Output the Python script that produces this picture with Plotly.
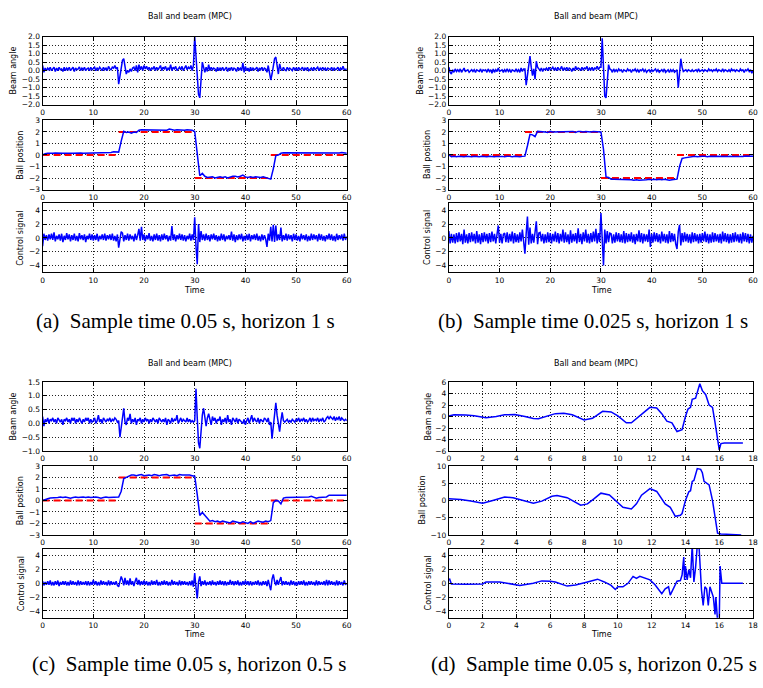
import plotly.graph_objects as go

W, H = 763, 688

# ---------------- (a) sample time 0.05 s, horizon 1 s ----------------
a_step = 0.25
a_angle = [
 .3,-.1,.15,0, .15,.05,.2,0,
 .1,.2,-.05,.15, 0,.2,.05,.1,
 -.05,.2,0,.15, .05,.2,0,.12,
 .2,-.05,.15,.05, .1,.22,0,.15,
 .05,.2,0,.1, .15,0,.2,.05,
 .1,.2,0,.15, .05,.2,.1,0,
 .2,.05,.15,0, .25,.1,.05,.2,
 .15,.3,.1,.2, -.8,-.3,.3,.6,
 .7,.2,-.2,0, -.1,.1,-.05,.15,
 .2,0,.3,-.1, .35,.05,.25,0,
 .3,.1,.25,.05, .2,0,.15,.1,
 .25,0,.2,.05, .15,.3,0,.2,
 .1,.25,0,.15, .05,.35,0,.2,
 .1,.25,0,.15, .2,.05,.25,0,
 .15,.3,.05,.2, .1,.3,0,.3,
 2.0,1.0,-.5,-1.4, -1.6,-.3,.5,.2,
 -.1,.2,-.05,.35, 0,.2,.05,.15,
 .1,-.05,.2,0, .15,.05,.2,0,
 .1,.2,-.05,.15, .05,.2,0,.15,
 .1,-.05,.2,.05, .15,0,.45,-.1,
 .25,0,.15,-.05, .2,0,.15,.05,
 .1,.2,-.05,.15, .05,.2,0,.15,
 .1,-.1,.3,-.2, -.55,-.2,.3,.7,
 .8,.1,-.2,.4, .1,0,.2,.05,
 0,.2,.05,.15, .1,0,.2,.05,
 .15,0,.2,.05, .1,.2,0,.15,
 .05,.2,0,.1, .15,0,.2,.05,
 .1,.2,0,.15, .05,.2,.05,.15,
 0,.15,.1,.05, .2,0,.15,.05,
 .1,.2,0,.15, .05,.25,.05,.1,
 .1]
a_pos_step = 0.5
a_pos = [
 0,.12,.15,.12, .15,.18,.15,.13,
 .15,.15,.18,.15, .15,.17,.15,.18,
 .15,.16,.17,.18, .15,.2,.18,.16,
 .2,.22,.25,.22, .28,.25,.25,1.2,
 2.05,1.95,2.0,1.9, 2.0,1.95,2.15,2.2,
 2.2,2.15,2.2,2.18, 2.15,2.2,2.18,2.2,
 2.2,2.15,2.25,2.2, 2.15,2.2,2.18,2.2,
 2.15,2.2,2.2,2.15, 2.05,.1,-1.8,-1.6,
 -1.85,-1.95,-1.95,-1.9, -2.0,-1.95,-1.9,-1.95,
 -1.9,-2.0,-1.9,-1.85, -1.85,-1.9,-1.85,-1.75,
 -1.9,-1.95,-1.9,-1.95, -1.9,-1.95,-1.95,-1.9,
 -1.95,-2.0,-2.1,-1.2, -.05,0,.15,.2,
 .2,.18,.2,.15, .18,.2,.2,.15,
 .18,.2,.15,.2, .2,.18,.2,.15,
 .18,.2,.15,.2, .2,.18,.22,.2,
 .15]
a_u = [
 -1.2,.6,-.3,.4, -.4,.5,-.2,.6,
 -.3,.8,-.5,.3, -.2,.5,-.4,.6,
 -.6,.3,-.3,.7, -.2,.5,-.5,.4,
 -.3,.6,-.4,.3, -.5,.7,-.2,.4,
 -.3,.5,-.6,.3, -.2,.6,-.3,.5,
 -.4,.4,-.3,.6, -.5,.3,-.2,.5,
 -.3,.6,-.4,.4, -.2,.5,-.3,.6,
 -.4,.3,-.5,.5, -1.4,.2,.9,.7,
 -.5,.4,-.3,.6, -.4,.5,-.2,.3,
 -.5,.6,-.3,.4, 1.3,-.4,1.6,-.3,
 .5,-.5,.4,-.2, .7,-.4,.3,-.5,
 .5,-.3,.6,-.4, .4,-.5,.5,-.3,
 .6,-.2,.4,-.5, .3,-.4,1.7,-.3,
 .5,-.5,.4,-.2, .6,-.3,.5,-.4,
 .4,-.5,.3,-.2, .6,-.4,.5,-.3,
 3.0,-1.2,-3.8,2.0, -.6,1.0,-.3,.5,
 -.4,.6,-.3,.4, -.5,.5,-.2,.6,
 -.3,.4,-.5,.3, -.4,.6,-.3,.5,
 -.5,.3,-.2,.4, -.3,.9,-.4,.5,
 -.6,.4,-.3,.5, -.2,.6,-.5,.3,
 -.4,.5,-.3,.6, -.5,.4,-.2,.5,
 -.3,.6,-.4,.3, -.5,.5,-.3,.4,
 -.2,-1.3,.6,-.4, 1.6,-.5,1.9,-.6,
 1.8,-.4,.5,-.3, 1.5,-.5,.4,-.3,
 .6,-.4,.5,-.2, .4,-.5,.6,-.3,
 .5,-.4,.3,-.5, .6,-.2,.4,-.3,
 .5,-.5,.3,-.4, .6,-.3,.5,-.2,
 .4,-.5,.6,-.3, .5,-.4,.3,-.5,
 .4,-.2,.6,-.3, .5,-.4,.3,-.5,
 .6,-.3,.4,-.2, .5,-.4,.6,-.3,
 .2]

# ---------------- (b) sample time 0.025 s, horizon 1 s ----------------
b_step = 0.25
b_angle = [
 .2,-.1,-.2,.05, -.1,.1,-.05,.05,
 -.05,.1,-.1,.05, .15,-.05,0,.05,
 -.1,0,.05,-.05, .05,-.1,.05,0,
 -.05,.1,-.1,.05, 0,.05,-.1,.1,
 -.05,.05,-.15,.1, -.1,.05,-.05,.15,
 -.05,0,.05,-.1, .05,-.05,.1,-.05,
 .05,-.1,.05,0, -.05,.1,-.05,.05,
 -.1,.15,-.05,.1, .1,-.85,-.2,.4,
 .85,.2,-.3,.1, -.5,.55,.2,.1,
 0,.15,-.05,.1, .05,.15,0,.2,
 .05,.1,.2,.05, .15,0,.2,.05,
 .1,.25,0,.15, .05,.2,0,.15,
 .1,-.05,.15,0, .25,.05,.15,.1,
 0,.2,.05,.15, .1,.25,0,.15,
 .05,.2,0,.15, .1,.25,.05,.2,
 .2,1.9,-.3,-1.5, -1.6,-.5,.35,.1,
 .05,-.1,.1,-.05, .05,-.05,.1,0,
 .05,-.1,.05,0, -.05,.1,0,.05,
 -.1,.05,0,.1, -.05,.05,-.1,.05,
 0,.1,-.05,.05, -.1,0,.05,-.1,
 .05,-.05,0,.1, -.05,.05,-.1,0,
 .05,-.05,.1,-.1, 0,.05,-.1,.05,
 -.05,.05,-.1,0, .05,-1.0,-.2,.7,
 .2,-.05,0,.05, -.05,.05,0,-.05,
 .05,-.05,0,.05, -.05,.1,-.05,0,
 .05,-.05,.05,0, -.05,.1,0,.05,
 -.05,.05,0,.1, -.05,.05,0,-.05,
 .1,-.05,.05,0, -.05,.05,-.05,.1,
 0,.05,-.05,.05, 0,-.05,.1,0,
 .05,-.1,.05,0, .1,-.05,.05,-.15,
 0]
b_pos_step = 0.5
b_pos = [
 0,-.15,-.1,-.15, -.1,-.12,-.15,-.1,
 -.12,-.15,-.1,-.12, -.15,-.1,-.12,-.15,
 -.1,-.15,-.15,-.12, -.1,-.12,-.15,-.1,
 -.12,-.15,-.1,-.15, -.15,-.12,-.1,.8,
 1.8,1.75,1.6,2.05, 2.05,2.0,2.0,1.95,
 2.05,2.0,2.0,2.05, 2.0,2.05,2.05,2.0,
 2.0,2.05,1.95,2.05, 2.05,2.0,2.05,2.0,
 2.0,2.05,2.05,2.0, 2.0,.5,-1.9,-1.95,
 -2.1,-2.1,-2.1,-2.15, -2.1,-2.15,-2.15,-2.1,
 -2.15,-2.2,-2.15,-2.2, -2.2,-2.15,-2.15,-2.1,
 -2.15,-2.1,-2.15,-2.1, -2.15,-2.1,-2.15,-2.2,
 -2.15,-2.15,-2.1,-1.0, -.3,-.25,-.2,-.15,
 -.15,-.1,-.15,-.1, -.1,-.1,-.15,-.1,
 -.1,-.12,-.1,-.1, -.12,-.1,-.1,-.15,
 -.1,-.12,-.1,-.1, -.12,-.08,-.1,-.12,
 -.1]
b_u = [
 1.0,-.8,.6,-.7, .5,-.8,.7,-.6,
 .8,-.5,.6,-.9, 1.2,-.7,.5,-.8,
 .7,-.6,.8,-.5, .6,-.8,1.0,-.7,
 .5,-.9,.7,-.6, .8,-.5,.6,-.8,
 .7,-.6,.9,-.5, .6,-.8,.5,1.8,
 -.7,.6,-.8,.5, .7,-.6,.8,-.7,
 .6,-.5,.9,-.8, .7,-.6,.5,-.7,
 .8,-.5,1.2,-.9, -2.3,.6,3.1,-1.0,
 1.5,-.8,.6,-.7, .6,2.4,-.9,.7,
 .8,-.5,.6,-.8, .5,-.7,.8,-.6,
 .7,-.8,.6,-.5, .9,-.6,.7,-.8,
 .6,-.5,1.2,-.7, .8,-.6,.5,-.9,
 1.1,-.7,.6,-.5, .7,-.8,1.4,-.6,
 .6,-.9,.8,-.5, 1.2,-.7,.6,-.8,
 .7,-.6,.9,-.5, 1.3,-.8,.7,-.6,
 3.6,-1.5,-4.0,1.2, -.8,1.0,-.6,.7,
 .6,-.8,.5,-.7, .8,-.5,.7,-.6,
 .5,-.7,1.0,-.8, .7,-.6,.6,-.5,
 .8,-.7,.5,-.9, .6,-.5,1.1,-.6,
 .7,-.8,.6,-.5, .5,-.6,1.2,-1.3,
 .6,-.7,.8,-.5, .7,-.6,.5,-.8,
 .9,-.5,.6,-.7, .5,-.8,1.0,-.6,
 .7,-.5,.6,-.9, -1.6,.9,1.9,-1.1,
 .7,-.6,.8,-.5, .6,-.7,.5,-.8,
 .8,-.6,.7,-.5, .5,-.8,.6,-.7,
 .7,-.5,.9,-.6, .6,-.8,.5,-.7,
 .8,-.6,.7,-.5, .5,-.7,.6,-.8,
 .9,-.5,.7,-.6, .6,-.8,.5,-.7,
 .7,-.6,.8,-.5, .5,-.7,.6,-.8,
 .8,-.5,.7,-.6, .6,-.8,.5,-.7,
 .3]

# ---------------- (c) sample time 0.05 s, horizon 0.5 s ----------------
c_step = 0.25
c_angle = [
 .25,-.1,.15,.05, .2,0,.15,.1,
 .2,.05,.15,0, .2,.1,.05,.15,
 -.05,.15,.1,.2, .05,.15,0,.2,
 .1,.2,0,.15, .05,.2,.1,0,
 .15,.05,.2,.1, .2,0,.15,.05,
 .1,.2,0,.1, .3,.05,.15,0,
 .2,.1,.05,.15, .1,.2,.05,.15,
 .1,.2,.15,.05, .1,-.5,-.1,.35,
 .55,.05,-.05,.2, .1,.35,0,.15,
 .05,.2,-.05,.15, .1,.2,0,.15,
 .05,.2,.1,.15, 0,.15,.05,.2,
 .1,.05,.15,0, .2,.1,.05,.15,
 .05,.2,-.05,.15, .1,0,.2,.05,
 .15,.1,.3,0, .1,.2,.05,.15,
 .1,.05,.2,.05, .15,.05,.1,.05,
 .1,1.25,.2,-.7, -.9,-.2,.3,.55,
 .1,-.1,.2,.35, .15,-.05,.25,.1,
 .2,0,.15,.1, .25,-.05,.15,.05,
 .2,0,.3,.05, .15,-.05,.2,.1,
 .05,.2,0,.15, .1,.05,0,.15,
 -.05,.1,.2,0, .15,.3,.05,.2,
 .1,.05,.2,0, .15,.1,.05,.2,
 .15,.05,.2,-.05, .05,-.55,-.1,.4,
 .75,.3,-.1,-.3, .1,.4,.1,.05,
 .1,.15,.05,.1, .05,.15,.1,.05,
 .15,.1,.2,.05, .15,.1,.2,.05,
 .15,.05,.1,.2, .05,.2,.1,.15,
 .1,.2,.05,.15, .1,.2,.05,.1,
 .2,.25,.15,.25, .2,.15,.25,.1,
 .2,.15,.25,.1, .2,.15,.1,.15,
 .1]
c_pos_step = 0.5
c_pos = [
 0,.1,.15,.2, .2,.25,.25,.3,
 .25,.3,.25,.2, .25,.3,.25,.3,
 .3,.25,.3,.25, .3,.3,.25,.2,
 .25,.3,.25,.25, .3,.3,.3,.8,
 1.9,2.0,2.1,2.2, 2.2,2.15,2.2,2.25,
 2.15,2.2,2.2,2.15, 2.25,2.2,2.15,2.2,
 2.2,2.25,2.15,2.2, 2.2,2.15,2.25,2.2,
 2.2,2.25,2.2,2.15, 2.1,.5,-1.3,-1.05,
 -1.3,-1.5,-1.8,-1.75, -1.85,-1.8,-1.9,-1.8,
 -1.85,-1.9,-1.95,-1.8, -1.85,-1.9,-1.95,-1.85,
 -1.9,-2.0,-1.85,-2.0, -1.9,-1.8,-1.85,-1.9,
 -1.8,-1.85,-1.75,-.2, 0,-.05,-.3,.2,
 .25,.25,.25,.3, .25,.3,.25,.3,
 .3,.3,.35,.25, .2,.25,.25,.3,
 .3,.45,.45,.45, .5,.45,.5,.45,
 .45]
c_u = [
 .3,-.3,.2,-.2, .3,-.2,.4,-.3,
 .2,-.3,.3,-.2, .4,-.4,.2,-.2,
 .3,-.2,.3,-.3, .2,-.3,.4,-.2,
 .3,-.2,.2,-.3, .4,-.3,.3,-.2,
 .2,-.2,.3,-.3, .3,-.3,.2,-.2,
 .5,-.2,.3,-.3, .2,-.3,.4,-.2,
 .3,-.2,.2,-.3, .4,-.3,.3,-.2,
 .2,-.2,.3,-.3, -.5,.3,1.0,.5,
 -.3,.8,-.2,.4, -.3,.7,-.2,.3,
 -.4,.3,.8,-.2, .5,-.3,.3,-.2,
 .4,-.2,.3,-.3, .2,-.3,.4,-.2,
 .3,-.2,.5,-.3, .2,-.3,.3,-.2,
 .4,-.2,.3,-.3, .2,-.3,.5,-.2,
 .3,-.2,.2,-.3, .4,-.3,.3,-.2,
 .3,-.2,.2,-.3, .3,-.3,.4,-.5,
 1.5,-.6,-2.2,.2, 1.0,-.4,.3,-.2,
 .4,-.3,.2,-.2, .3,-.3,.4,-.2,
 .2,-.3,.3,-.2, .4,-.2,.3,-.3,
 .3,-.3,.2,-.2, .5,-.2,.3,-.3,
 .3,-.2,.4,-.3, .2,-.3,.3,-.2,
 .4,-.2,.3,-.3, .3,-.3,.2,-.2,
 .3,-.2,.4,-.3, .2,-.3,.3,-.2,
 .3,-.4,.5,-.3, -1.0,.6,1.3,.3,
 -.3,.5,-.2,.4, .9,-.3,.3,-.2,
 .3,-.2,.2,-.3, .4,-.2,.3,-.3,
 .2,-.3,.3,-.2, .3,-.2,.4,-.3,
 .2,-.3,.3,-.2, .3,-.2,.2,-.3,
 .4,-.3,.3,-.2, .2,-.2,.3,-.3,
 .5,-.3,.4,-.2, .3,-.2,.2,-.3,
 .4,-.3,.3,-.2, .2,-.3,.4,-.2,
 0]

# ---------------- (d) sample time 0.05 s, horizon 0.25 s ----------------
d_angle_t = [0,.3,1.0,1.5,2.2,2.8,3.3,3.9,4.5,5.0, 5.3,5.8,6.3,6.8,7.3,8.0,8.5,9.1,9.6,10.0,
             10.5,10.8,11.3,11.9,12.3,12.6,12.9,13.2,13.5,13.8, 14.0,14.15,14.3,14.4,14.6,14.85,15.0,15.2,15.4,15.6,
             15.75,15.9,16.0,16.1,16.3,17.4]
d_angle = [.1,.3,.25,.15,-.2,0,.3,.35,0,-.35, -.4,0,.5,.55,.3,-.6,-.3,.9,.8,.1,
           -1.1,-1.1,.2,1.6,1.5,.5,-.8,-1.1,-2.6,-2.3, 0,1.3,1.6,3.0,3.2,5.7,4.5,3.8,2.0,1.6,
           -1.0,-4.0,-5.8,-4.7,-4.6,-4.6]
d_pos_t = [0,.7,1.3,2.0,2.6,3.3,3.8,4.4,5.0,5.5, 6.1,6.4,7.0,7.8,8.2,8.6,9.0,9.5,9.9,10.3,
           10.8,11.1,11.4,11.9,12.3,12.6,12.8,13.1,13.4,13.7, 13.8,14.0,14.2,14.3,14.4,14.5,14.7,14.9,15.0,15.1,
           15.4,15.6,15.75,15.9,16.1,17.3]
d_pos = [.5,.3,-.2,-.8,0,1.0,.8,-.1,-.8,-.2, 1.2,1.4,.8,-1.4,-1.0,.5,2.1,1.6,-.2,-2.0,
         -2.5,-1.0,1.5,3.4,2.6,.5,-1.0,-2.0,-4.6,-4.3, -3.8,0,2.5,2.8,5.5,5.8,9.2,9.0,8.0,5.5,
         4.5,0,-5.0,-9.5,-9.7,-10.0]
d_u_t = [0,.05,.15,1.0,2.0,2.2,3.0,3.5,4.2,5.0, 5.5,6.0,6.3,7.0,7.5,8.2,8.6,8.8,9.2,9.6,
         9.85,10.0,10.3,10.6,10.9,11.1,11.3,11.6,11.9,12.2, 12.4,12.6,12.8,13.0,13.1,13.3,13.5,13.7,13.8,13.9,
         13.95,14.0,14.1,14.2,14.3,14.4,14.5,14.6,14.7,14.8, 14.95,15.05,15.15,15.25,15.35,15.45,15.55,15.65,15.75,15.8,
         15.9,16.0,16.05,16.15,17.4]
d_u = [.5,.6,-.1,-.15,-.1,.2,.2,0,-.3,0, .35,.3,.2,-.4,-.25,.2,.5,.6,.2,-.3,
       -.9,-.5,-.5,0,1.0,.7,1.0,.8,.5,-.2, -.8,-1.5,-.8,-.5,-1.7,-.6,.3,.4,1.2,3.8,
       .5,2.5,.5,2.0,.8,5.5,.2,2.3,5.5,5.5, -1.0,-3.2,-.5,-.8,-3.2,-.5,-1.3,-2.0,-4.5,-2.0,
       -5.5,-5.5,2.5,0,0]

# reference (setpoint) for ball position
ref_t = [0, 15, None, 15, 30, None, 30, 45, None, 45, 60]
ref_y = [0, 0, None, 2, 2, None, -2, -2, None, 0, 0]

captions = ["(a)\u00a0 Sample time 0.05 s, horizon 1 s",
            "(b)\u00a0 Sample time 0.025 s, horizon 1 s",
            "(c)\u00a0 Sample time 0.05 s, horizon 0.5 s",
            "(d)\u00a0 Sample time 0.05 s, horizon 0.25 s"]
title_text = "Ball and beam (MPC)"
ylabels = ["Beam angle", "Ball position", "Control signal"]


def times(vals, step):
    return [i * step for i in range(len(vals))]


BLUE = "#0000ff"
SANS = "DejaVu Sans"

fig = go.Figure()
layout = {}
annotations = []

AX = dict(showline=True, linecolor="black", linewidth=1.2, mirror="ticks",
          ticks="inside", ticklen=4, tickwidth=1, tickcolor="black",
          showgrid=True, gridcolor="#222222", griddash="1px,2px", gridwidth=0.8,
          zeroline=False, tickfont=dict(family=SANS, size=7.5, color="black"))

# panel geometry (pixels)
panel_x = {"a": (41, 348), "b": (451, 758), "c": (41, 348), "d": (451, 758)}
rows_top = [(33, 102), (118, 188), (202, 272)]
rows_bot = [(383, 453), (468, 538), (552, 622)]
panel_rows = {"a": rows_top, "b": rows_top, "c": rows_bot, "d": rows_bot}

x60 = dict(range=[0, 60], tickvals=[0, 10, 20, 30, 40, 50, 60])
x18 = dict(range=[0, 18], tickvals=list(range(0, 19, 2)))
y_ang2 = dict(range=[-2, 2], tickvals=[-2, -1.5, -1, -.5, 0, .5, 1, 1.5, 2], tickformat=".1f")
y_ang15 = dict(range=[-1, 1.5], tickvals=[-1, -.5, 0, .5, 1, 1.5], tickformat=".1f")
y_ang6 = dict(range=[-6, 6], tickvals=[-6, -4, -2, 0, 2, 4, 6])
y_pos3 = dict(range=[-3, 3], tickvals=[-3, -2, -1, 0, 1, 2, 3])
y_pos10 = dict(range=[-10, 10], tickvals=[-10, -5, 0, 5, 10])
y_u5 = dict(range=[-5, 5], tickvals=[-4, -2, 0, 2, 4])

panels = [
    ("a", x60, [y_ang2, y_pos3, y_u5],
     [(times(a_angle, a_step), a_angle), (times(a_pos, a_pos_step), a_pos), (times(a_u, a_step), a_u)], True),
    ("b", x60, [y_ang2, y_pos3, y_u5],
     [(times(b_angle, b_step), b_angle), (times(b_pos, b_pos_step), b_pos), (times(b_u, b_step), b_u)], True),
    ("c", x60, [y_ang15, y_pos3, y_u5],
     [(times(c_angle, c_step), c_angle), (times(c_pos, c_pos_step), c_pos), (times(c_u, c_step), c_u)], True),
    ("d", x18, [y_ang6, y_pos10, y_u5],
     [(d_angle_t, d_angle), (d_pos_t, d_pos), (d_u_t, d_u)], False),
]

ylab_x = {"a": [12, 19, 19], "b": [422, 430, 430], "c": [12, 19, 19], "d": [430, 424, 430]}
title_pos = {"a": (190, 13), "b": (600, 13), "c": (190, 364), "d": (600, 364)}
time_pos = {"a": (194.5, 290), "b": (605, 290), "c": (194.5, 639), "d": (605, 639)}
cap_pos = {"a": (185, 321), "b": (596, 321), "c": (189, 669), "d": (597, 669)}

n = 0
for key, xspec, yspecs, series, has_ref in panels:
    x0, x1 = panel_x[key]
    for r, ((y0, y1), yspec, (tx, ty)) in enumerate(zip(panel_rows[key], yspecs, series)):
        n += 1
        xa = "x" if n == 1 else f"x{n}"
        ya = "y" if n == 1 else f"y{n}"
        xname = "xaxis" if n == 1 else f"xaxis{n}"
        yname = "yaxis" if n == 1 else f"yaxis{n}"
        layout[xname] = dict(AX, domain=[x0 / W, x1 / W], anchor=ya, **xspec)
        layout[yname] = dict(AX, domain=[1 - y1 / H, 1 - y0 / H], anchor=xa, **yspec)
        if r == 1 and has_ref:
            fig.add_trace(go.Scatter(x=ref_t, y=ref_y, mode="lines", xaxis=xa, yaxis=ya,
                                     line=dict(color="#ff0000", width=2, dash="7px,4px"),
                                     showlegend=False, connectgaps=False))
        fig.add_trace(go.Scatter(x=tx, y=ty, mode="lines", xaxis=xa, yaxis=ya,
                                 line=dict(color=BLUE, width=1.5), showlegend=False))
        annotations.append(dict(text=ylabels[r], x=ylab_x[key][r] / W, y=1 - (y0 + y1) / 2 / H,
                                xref="paper", yref="paper", showarrow=False, textangle=-90,
                                xanchor="center", yanchor="middle",
                                font=dict(family=SANS, size=8, color="black")))
    tx_, ty_ = title_pos[key]
    annotations.append(dict(text=title_text, x=tx_ / W, y=1 - ty_ / H, xref="paper", yref="paper",
                            showarrow=False, xanchor="center", yanchor="middle",
                            font=dict(family=SANS, size=8, color="black")))
    tx_, ty_ = time_pos[key]
    annotations.append(dict(text="Time", x=tx_ / W, y=1 - ty_ / H, xref="paper", yref="paper",
                            showarrow=False, xanchor="center", yanchor="middle",
                            font=dict(family=SANS, size=8, color="black")))
    cx, cy = cap_pos[key]
    annotations.append(dict(text=captions["abcd".index(key)], x=cx / W, y=1 - cy / H,
                            xref="paper", yref="paper", showarrow=False,
                            xanchor="center", yanchor="middle",
                            font=dict(family="Liberation Serif", size=21, color="black")))

fig.update_layout(width=W, height=H, margin=dict(l=0, r=0, t=0, b=0),
                  paper_bgcolor="white", plot_bgcolor="white",
                  showlegend=False, annotations=annotations, **layout)

fig.write_html("out.html")
